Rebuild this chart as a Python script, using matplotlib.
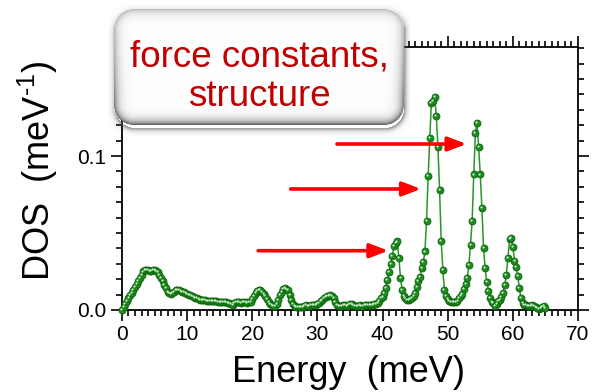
import numpy as np
import matplotlib
matplotlib.use("Agg")
import matplotlib.pyplot as plt
from matplotlib.ticker import MultipleLocator
import matplotlib.transforms as mtransforms

plt.rcParams['font.family'] = ['Liberation Sans', 'DejaVu Sans']
plt.rcParams['mathtext.fontset'] = 'custom'
plt.rcParams['mathtext.rm'] = 'Liberation Sans'

# Phonon density of states, 0.25 meV grid
energy = np.arange(0, 65.001, 0.25)
dos = [
    0.000, 0.002, 0.004, 0.006, 0.008, 0.0095, 0.011, 0.013,          # 0 - 1.75
    0.015, 0.017, 0.019, 0.021, 0.023, 0.025, 0.026, 0.0262,          # 2 - 3.75
    0.026, 0.0255, 0.0252, 0.0258, 0.026, 0.0255, 0.0245, 0.023,      # 4 - 5.75
    0.021, 0.019, 0.016, 0.014, 0.012, 0.011, 0.0105, 0.011,          # 6 - 7.75
    0.012, 0.013, 0.0132, 0.013, 0.0125, 0.012, 0.0115, 0.011,        # 8 - 9.75
    0.0105, 0.010, 0.0095, 0.009, 0.0085, 0.008, 0.0075, 0.007,       # 10 - 11.75
    0.0068, 0.0065, 0.0063, 0.0062, 0.006, 0.006, 0.0058, 0.0056,     # 12 - 13.75
    0.0057, 0.0058, 0.0056, 0.0054, 0.0055, 0.0053, 0.0052, 0.005,    # 14 - 15.75
    0.0052, 0.0048, 0.0045, 0.004, 0.0035, 0.0045, 0.005, 0.0052,     # 16 - 17.75
    0.005, 0.0048, 0.005, 0.0052, 0.005, 0.0048, 0.005, 0.0055,       # 18 - 19.75
    0.007, 0.009, 0.011, 0.0125, 0.013, 0.0128, 0.012, 0.0105,        # 20 - 21.75
    0.009, 0.0072, 0.0055, 0.004, 0.003, 0.0026, 0.0028, 0.004,       # 22 - 23.75
    0.0065, 0.0095, 0.012, 0.0138, 0.014, 0.0138, 0.013, 0.010,       # 24 - 25.75
    0.0065, 0.004, 0.0028, 0.002, 0.0018, 0.002, 0.0018, 0.002,       # 26 - 27.75
    0.0025, 0.003, 0.0028, 0.0025, 0.003, 0.0035, 0.003, 0.0035,      # 28 - 29.75
    0.004, 0.0048, 0.0058, 0.0068, 0.0075, 0.0082, 0.009, 0.0093,     # 30 - 31.75
    0.0095, 0.009, 0.0075, 0.005, 0.0032, 0.0025, 0.0025, 0.0028,     # 32 - 33.75
    0.003, 0.003, 0.0028, 0.0032, 0.004, 0.0042, 0.0035, 0.0028,      # 34 - 35.75
    0.0025, 0.0028, 0.003, 0.0028, 0.0027, 0.003, 0.0032, 0.003,      # 36 - 37.75
    0.0032, 0.0035, 0.0035, 0.0038, 0.004, 0.0045, 0.006, 0.0075,     # 38 - 39.75
    0.0087, 0.011, 0.0145, 0.0195, 0.0249, 0.030, 0.035, 0.0418,      # 40 - 41.75
    0.0435, 0.0445, 0.034, 0.021, 0.013, 0.009, 0.0075, 0.0068,       # 42 - 43.75
    0.0065, 0.007, 0.0078, 0.009, 0.0108, 0.015, 0.019, 0.0216,       # 44 - 45.75
    0.027, 0.031, 0.038, 0.058, 0.087, 0.112, 0.1345, 0.1355,         # 46 - 47.75
    0.1385, 0.126, 0.106, 0.078, 0.045, 0.026, 0.013, 0.0088,         # 48 - 49.75
    0.007, 0.006, 0.0052, 0.005, 0.005, 0.0055, 0.006, 0.0075,        # 50 - 51.75
    0.009, 0.0105, 0.0135, 0.017, 0.021, 0.029, 0.042, 0.058,         # 52 - 53.75
    0.088, 0.115, 0.1215, 0.106, 0.088, 0.066, 0.040, 0.027,          # 54 - 55.75
    0.018, 0.0125, 0.0075, 0.0055, 0.0045, 0.0028, 0.004, 0.006,      # 56 - 57.75
    0.0065, 0.0085, 0.011, 0.016, 0.023, 0.034, 0.046, 0.047,         # 58 - 59.75
    0.041, 0.032, 0.028, 0.022, 0.014, 0.0075, 0.0045, 0.0035,        # 60 - 61.75
    0.003, 0.0028, 0.0028, 0.0025, 0.003, 0.0025, 0.002, 0.0015,      # 62 - 63.75
    0.0005, 0.001, 0.002, 0.0025, 0.0015,                             # 64 - 65
]

# Arrows: (start energy, end energy, DOS level)
arrow_starts = [20.9, 25.9, 33.0]
arrow_ends = [40.9, 45.9, 52.9]
arrow_levels = [0.0385, 0.0786, 0.1078]

box_lines = ["force constants,", "structure"]

green = '#1f8a1f'
dark_green = '#0b650b'

fig = plt.figure(figsize=(5.93, 3.92), dpi=100)
ax = fig.add_axes([0.2057, 0.2092, 0.7690, 0.6709])

ax.plot(energy, dos, '-', color='#2a962a', lw=1.1, zorder=3)
ax.plot(energy, dos, 'o', ms=5.0, mfc=green, mec=dark_green, mew=0.6, zorder=4,
        clip_on=False)
# small specular highlight on each bead
hl = ax.transData + mtransforms.ScaledTranslation(-0.7 / 72, 0.7 / 72, fig.dpi_scale_trans)
ax.plot(energy, dos, 'o', ms=1.6, mfc='#c4ecc4', mec='none', transform=hl, zorder=5,
        clip_on=False)

ax.set_xlim(0, 70)
ax.set_ylim(0, 0.1708)
ax.xaxis.set_major_locator(MultipleLocator(10))
ax.xaxis.set_minor_locator(MultipleLocator(1))
ax.yaxis.set_major_locator(MultipleLocator(0.1))
ax.yaxis.set_minor_locator(MultipleLocator(0.01))
ax.yaxis.set_major_formatter(plt.FuncFormatter(lambda v, p: f"{v:.1f}"))

for s in ax.spines.values():
    s.set_linewidth(1.3)
ax.tick_params(which='both', direction='out', top=True, right=True, width=1.2,
               labelsize=15, pad=3)
ax.tick_params(which='major', length=8)
ax.tick_params(which='minor', length=4.5)

ax.set_xlabel("Energy  (meV)", fontsize=26)
ax.set_ylabel("DOS  (meV$^{\u2010 1}$)", fontsize=26)
ax.xaxis.set_label_coords(0.496, -0.17)
ax.yaxis.set_label_coords(-0.135, 0.53)

for x0, x1, y in zip(arrow_starts, arrow_ends, arrow_levels):
    ax.annotate("", xy=(x1, y), xytext=(x0, y),
                arrowprops=dict(arrowstyle="-|>,head_length=1.1,head_width=0.42",
                                color='#ff0000', lw=2.6, shrinkA=0, shrinkB=0),
                zorder=6)

# Bevelled rounded label box drawn as a shaded RGBA texture
W, H = 302, 134
bx0, by0 = 108, 3          # canvas top-left in figure pixels
left, right, top, bottom = 114, 404, 9, 125
r = 20.0
yy, xx = np.mgrid[0:H, 0:W] + 0.5
px = xx + bx0
py = yy + by0


def rounded_dist(px, py, l, rr, t, b, rad):
    cx, cy = (l + rr) / 2, (t + b) / 2
    hw, hh = (rr - l) / 2, (b - t) / 2
    qx = np.abs(px - cx) - (hw - rad)
    qy = np.abs(py - cy) - (hh - rad)
    outside = np.hypot(np.maximum(qx, 0), np.maximum(qy, 0))
    inside = np.minimum(np.maximum(qx, qy), 0)
    return outside + inside - rad


d = rounded_dist(px, py, left, right, top, bottom, r)
ds = rounded_dist(px, py, left + 1, right + 1, top + 3, bottom + 4, r)

rgba = np.zeros((H, W, 4))
# drop shadow
sh_alpha = np.clip(0.55 * np.exp(-np.maximum(ds, 0) / 2.2), 0, 1) * (ds > -1)
rgba[..., :3] = 0.35
rgba[..., 3] = sh_alpha
# body with bevel shading, darker toward the lower edge
t = np.maximum(-d, 0)
yrel = (py - top) / (bottom - top)
amp = 0.28 + 0.40 * np.clip(yrel, 0, 1) ** 2
bright = 1 - amp * np.exp(-t / 4.5)
inside = d <= 0
edge_aa = np.clip(0.5 - d, 0, 1)
for c in range(3):
    rgba[..., c] = np.where(inside, bright, rgba[..., c])
rgba[..., 3] = np.maximum(rgba[..., 3], edge_aa)
rgba[..., :3] = np.where((edge_aa > 0)[..., None] & ~inside[..., None],
                         0.72, rgba[..., :3])

fw, fh = 593, 392
box_ax = fig.add_axes([bx0 / fw, 1 - (by0 + H) / fh, W / fw, H / fh], zorder=10)
box_ax.imshow(rgba, extent=(0, W, H, 0), aspect='auto', interpolation='bilinear')
box_ax.set_axis_off()
box_ax.text((left + right) / 2 - bx0, 57 - by0, box_lines[0], fontsize=26.5,
            color='#c00000', ha='center', va='center')
box_ax.text((left + right) / 2 - bx0, 96 - by0, box_lines[1], fontsize=26.5,
            color='#c00000', ha='center', va='center')

fig.savefig("out.png", dpi=100)
